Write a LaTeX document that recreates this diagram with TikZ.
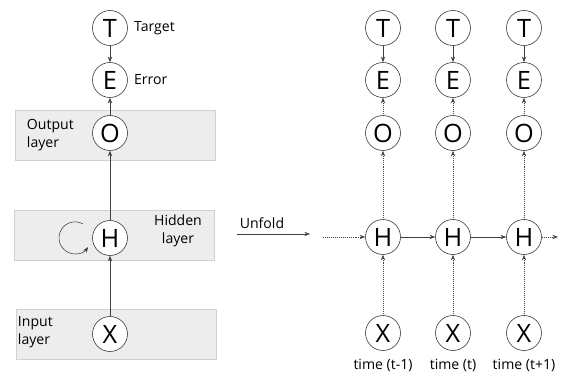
\documentclass[tikz,border=0pt]{standalone}
\usepackage{fontspec}
\setmainfont{Open Sans}
\usetikzlibrary{positioning,arrows.meta}

\begin{document}
\begin{tikzpicture}[x=0.025cm, y=-0.025cm, >={Stealth[length=4pt,width=3pt]},
    unit/.style={circle, draw=black!80, thin, fill=white, minimum size=0.875cm, inner sep=0pt, font=\fontsize{18}{18}\selectfont},
    layer/.style={draw=black!18, fill=black!7},
    lbl/.style={font=\fontsize{10}{13}\selectfont},
    solidarr/.style={->, draw=black!75, thin},
    dotarr/.style={->, draw=black!75, thin, densely dotted}]
  \useasboundingbox (0,0) rectangle (567,376);

  % layer boxes
  \draw[layer] (15,110) rectangle (215,160);
  \draw[layer] (14,210) rectangle (214,260);
  \draw[layer] (16,309) rectangle (216,359);

  % folded network
  \node[unit] (T) at (110,28) {T};
  \node[unit] (E) at (110,80) {E};
  \node[unit] (O) at (110,133) {O};
  \node[unit] (H) at (110,238) {H};
  \node[unit] (X) at (110,334) {X};
  \node[lbl, right=1pt of T] (Tlbl) {Target};
  \node[lbl, right=1pt of E] (Elbl) {Error};
  \node[lbl, align=left, anchor=west] (Olbl) at (22,135) {Output\\layer};
  \node[lbl, align=center] (Hlbl) at (178,231) {Hidden\\layer};
  \node[lbl, align=left, anchor=west] (Xlbl) at (13,332) {Input\\layer};

  \path[solidarr]
    (T) edge (E)
    (O) edge (E)
    (H) edge (O)
    (X) edge (H);
  \draw[solidarr] ([shift={(-27,-14)}]H.center) arc[start angle=-60, end angle=-325, radius=16];

  % unfold
  \node[lbl] (unfold) at (262,223) {Unfold};
  \coordinate (ufs) at (237,234);
  \coordinate (ufe) at (310,234);
  \draw[solidarr] (ufs) -- (ufe);

  % unfolded network
  \foreach \i/\x/\t in {1/383/t-1, 2/453/t, 3/524/t+1} {
    \node[unit] (T\i) at (\x,28) {T};
    \node[unit] (E\i) at (\x,80) {E};
    \node[unit] (O\i) at (\x,133) {O};
    \node[unit] (H\i) at (\x,237) {H};
    \node[unit] (X\i) at (\x,333) {X};
    \node[lbl] (time\i) at (\x,365) {time (\t)};
    \draw[solidarr] (T\i) -- (E\i);
    \draw[dotarr] (O\i) -- (E\i);
    \draw[dotarr] (H\i) -- (O\i);
    \draw[dotarr] (X\i) -- (H\i);
  }
  \coordinate (hin) at (323,237);
  \coordinate (hout) at (558,237);
  \draw[dotarr] (hin) -- (H1);
  \draw[solidarr] (H1) -- (H2);
  \draw[solidarr] (H2) -- (H3);
  \draw[dotarr] (H3) -- (hout);
\end{tikzpicture}
\end{document}
